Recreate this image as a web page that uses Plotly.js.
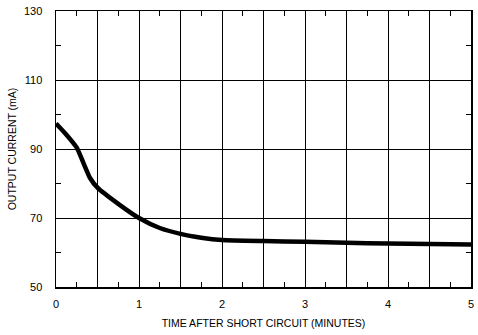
<!DOCTYPE html>
<html><head><meta charset="utf-8">
<script src="https://cdn.plot.ly/plotly-3.0.1.min.js"></script>
<style>html,body{margin:0;padding:0;background:#fff}#c{width:478px;height:335px}</style>
</head><body><div id="c"></div>
<script>
const timeMin = [0, 0.12, 0.25, 0.33, 0.41, 0.5, 0.75, 1, 1.25, 1.5, 1.75, 2, 2.5, 3, 3.5, 4, 4.5, 5];
const currentMA = [97.4, 94.3, 90.4, 86.0, 81.6, 78.8, 74.1, 70.0, 67.1, 65.4, 64.3, 63.6, 63.3, 63.1, 62.8, 62.6, 62.5, 62.3];
const xTickVals = [0, 0.5, 1, 1.5, 2, 2.5, 3, 3.5, 4, 4.5, 5];
const xTickText = ['0', '', '1', '', '2', '', '3', '', '4', '', '5'];
const xMinorVals = [0.25, 0.75, 1.25, 1.75, 2.25, 2.75, 3.25, 3.75, 4.25, 4.75];
const yTickVals = [50, 70, 90, 110, 130];
const yTickText = ['50', '70', '90', '110', '130'];
const yMinorVals = [60, 80, 100, 120];

const font = {family: 'Liberation Sans, Arial, sans-serif', size: 11, color: '#000'};
Plotly.newPlot('c', [{
  x: timeMin, y: currentMA, type: 'scatter', mode: 'lines',
  line: {color: '#000', width: 4.5, shape: 'spline', smoothing: 0.5},
  hoverinfo: 'skip'
}], {
  width: 478, height: 335,
  margin: {l: 56, r: 7, t: 11, b: 48},
  paper_bgcolor: '#fff', plot_bgcolor: '#fff',
  showlegend: false, font: font,
  xaxis: {
    range: [0, 5], tickmode: 'array', tickvals: xTickVals, ticktext: xTickText,
    showgrid: true, gridcolor: '#000', gridwidth: 1, zeroline: false,
    showline: true, linecolor: '#000', linewidth: 1.5, mirror: 'ticks',
    ticks: '', ticklabelstandoff: 6,
    minor: {tickmode: 'array', tickvals: xMinorVals, ticks: 'inside', ticklen: 5, tickwidth: 1, tickcolor: '#000', showgrid: false},
    title: {text: 'TIME AFTER SHORT CIRCUIT (MINUTES)', font: {size: 10.5, family: font.family, color: '#000'}, standoff: 11}
  },
  yaxis: {
    range: [50, 130], tickmode: 'array', tickvals: yTickVals, ticktext: yTickText,
    showgrid: true, gridcolor: '#000', gridwidth: 1, zeroline: false,
    showline: true, linecolor: '#000', linewidth: 1.5, mirror: 'ticks',
    ticks: '', ticklabelstandoff: 10,
    minor: {tickmode: 'array', tickvals: yMinorVals, ticks: 'inside', ticklen: 5, tickwidth: 1, tickcolor: '#000', showgrid: false},
    title: {text: 'OUTPUT CURRENT (mA)', font: {size: 10.5, family: font.family, color: '#000'}, standoff: 5}
  }
}, {staticPlot: true, displayModeBar: false});
</script></body></html>
